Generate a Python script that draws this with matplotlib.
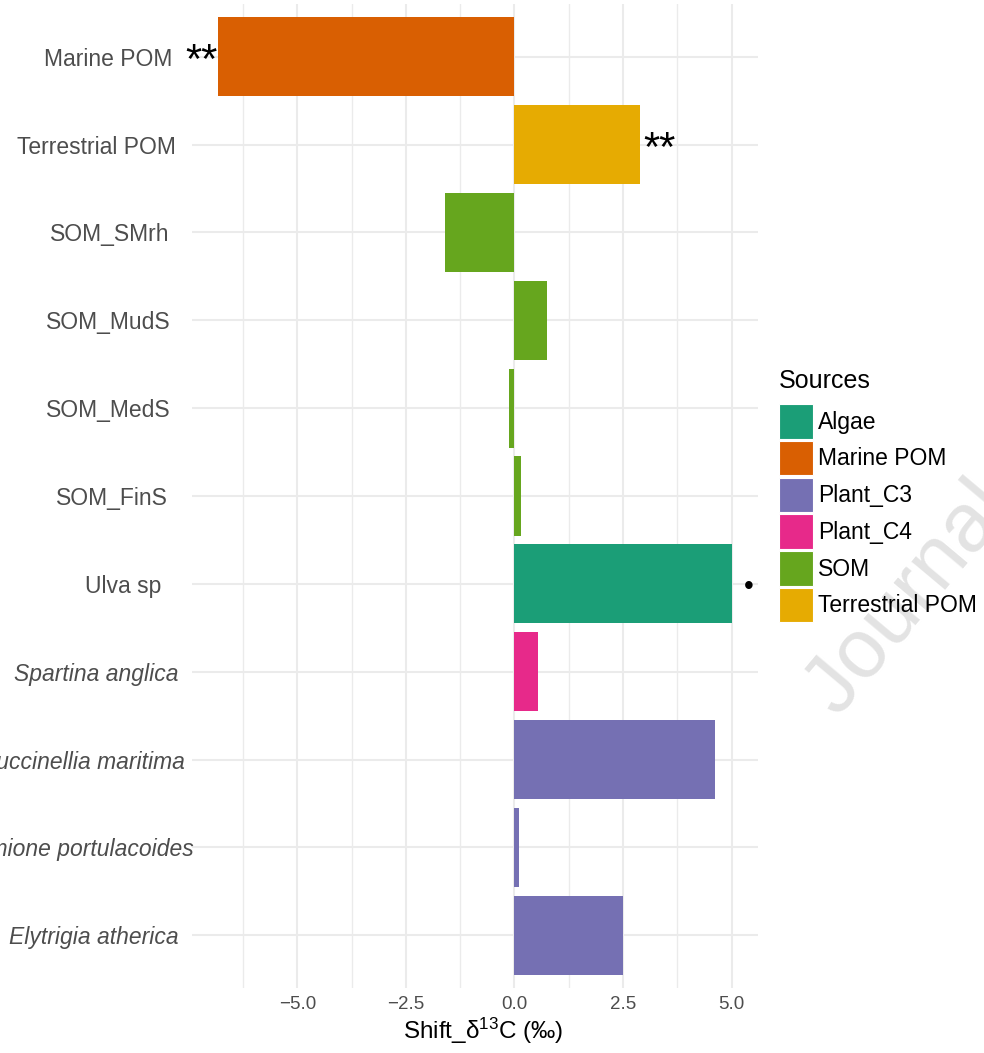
import numpy as np
import matplotlib
matplotlib.use('Agg')
import matplotlib.pyplot as plt
import matplotlib.transforms as mtransforms
from matplotlib.patches import Patch

plt.rcParams['font.family'] = ['Liberation Sans', 'DejaVu Sans']
plt.rcParams['mathtext.default'] = 'regular'
plt.rcParams['axes.unicode_minus'] = True

# data (top to bottom as drawn)
labels = ['Marine POM', 'Terrestrial POM', 'SOM_SMrh', 'SOM_MudS', 'SOM_MedS',
          'SOM_FinS', 'Ulva sp', 'Spartina anglica', 'Puccinellia maritima',
          'Halimione portulacoides', 'Elytrigia atherica']
italic = [False, False, False, False, False, False, False, True, True, True, True]
shift = [-6.84, 2.88, -1.61, 0.74, -0.12, 0.14, 5.02, 0.55, 4.61, 0.10, 2.51]
source = ['Marine POM', 'Terrestrial POM', 'SOM', 'SOM', 'SOM', 'SOM',
          'Algae', 'Plant_C4', 'Plant_C3', 'Plant_C3', 'Plant_C3']
signif = ['**', '**', '', '', '', '', '•', '', '', '', '']

sources = ['Algae', 'Marine POM', 'Plant_C3', 'Plant_C4', 'SOM', 'Terrestrial POM']
colors = ['#1B9E77', '#D95F02', '#7570B3', '#E7298A', '#66A61E', '#E6AB02']
cmap = dict(zip(sources, colors))

# small horizontal nudges of the y labels (pixels), the original is a bit ragged
label_nudge = [-3, 1, -6, -5, -5, -7, -14, 3, 10, 18, 3]

fig = plt.figure(figsize=(9.84, 10.53), dpi=100)

# watermark (behind everything)
fig.text(838/984, 1 - 718/1053, 'Journal Pre-proof', rotation=50,
         rotation_mode='anchor', ha='left', va='baseline', fontsize=60,
         color='#E3E3E3', zorder=-1)

ax = fig.add_axes([192/984, 65/1053, 566/984, 984/1053])
ax.patch.set_alpha(0)

n = len(labels)
ypos = np.arange(n, 0, -1)
ax.barh(ypos, shift, height=0.9, color=[cmap[s] for s in source], zorder=2)

ax.set_xlim(-7.43, 5.61)
ax.set_ylim(0.4, n + 0.6)
ax.set_xticks([-5, -2.5, 0, 2.5, 5])
ax.set_xticklabels(['\u22125.0', '\u22122.5', '0.0', '2.5', '5.0'])
ax.set_xticks([-6.25, -3.75, -1.25, 1.25, 3.75], minor=True)
ax.set_yticks(ypos)
ax.set_yticklabels(labels)

ax.grid(which='major', color='#EBEBEB', linewidth=1.5, zorder=0)
ax.grid(which='minor', axis='x', color='#EBEBEB', linewidth=1.0, zorder=0)
ax.set_axisbelow(True)
for sp in ax.spines.values():
    sp.set_visible(False)
ax.tick_params(which='both', length=0)
ax.tick_params(axis='x', labelsize=13.5, labelcolor='#4D4D4D', pad=6)
ax.tick_params(axis='y', labelsize=16.5, labelcolor='#4D4D4D', pad=12)

for lab, it, dx in zip(ax.get_yticklabels(), italic, label_nudge):
    if it:
        lab.set_style('italic')
    lab.set_transform(lab.get_transform() +
                      mtransforms.ScaledTranslation(dx / 100, 0, fig.dpi_scale_trans))

ax.set_xlabel('Shift_δ$^{13}$C (‰)', fontsize=17.5, color='black', labelpad=2)
ax.xaxis.label.set_x(0.514)

# significance marks
for y, v, s in zip(ypos, shift, signif):
    if s == '**':
        if v < 0:
            ax.annotate(s, xy=(v, y), xytext=(0, -12), textcoords='offset points',
                        ha='right', va='baseline', fontsize=30, color='black')
        else:
            ax.annotate(s, xy=(v, y), xytext=(3, -12), textcoords='offset points',
                        ha='left', va='baseline', fontsize=30, color='black')
    elif s:
        ax.annotate(s, xy=(v, y), xytext=(11.5, -7), textcoords='offset points',
                    ha='center', va='baseline', fontsize=20, color='black')

handles = [Patch(facecolor=c, edgecolor='white', linewidth=0.8) for c in colors]
leg = fig.legend(handles, sources, title='Sources', loc='upper left',
                 bbox_to_anchor=(779/984, 1 - 369/1053), frameon=False,
                 fontsize=16.5, title_fontsize=18, borderpad=0, borderaxespad=0,
                 handlelength=1.48, handleheight=1.95, labelspacing=0.09,
                 handletextpad=0.22, alignment='left')
leg._legend_box.sep = 8

fig.savefig('out.png', dpi=100)
